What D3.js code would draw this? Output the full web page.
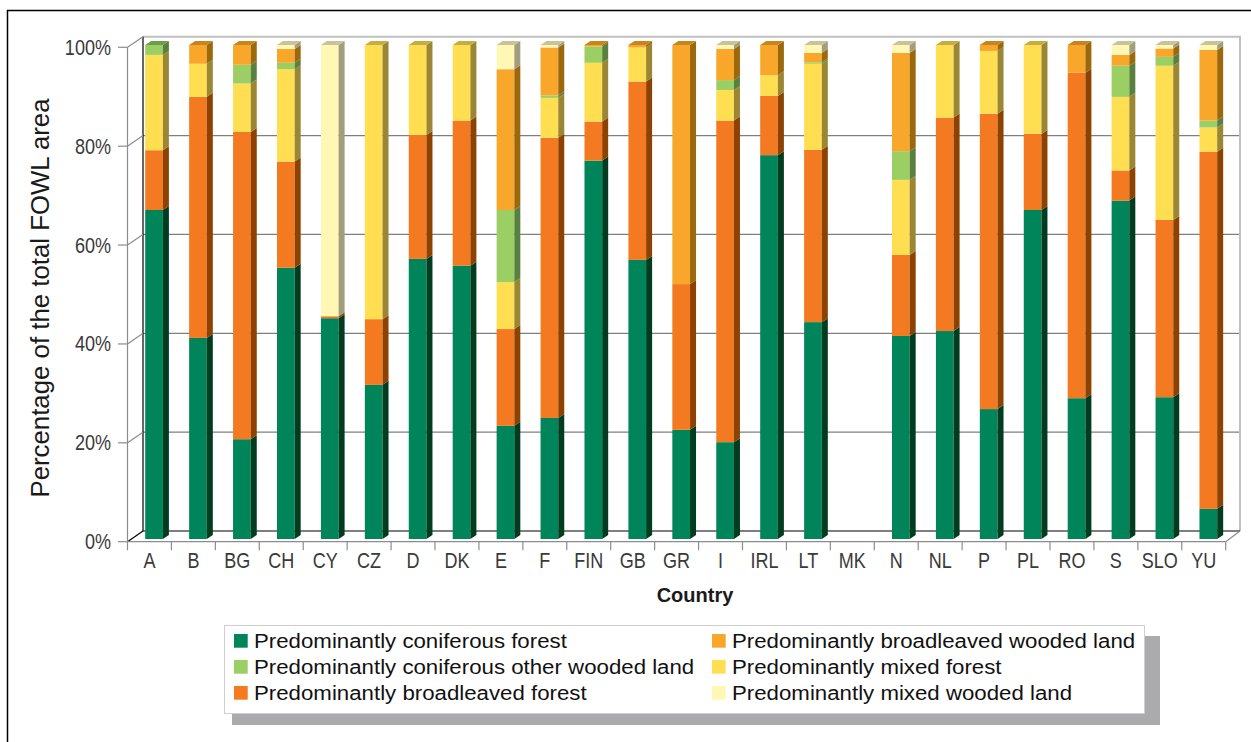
<!DOCTYPE html>
<html>
<head>
<meta charset="utf-8">
<script src="https://cdn.jsdelivr.net/npm/d3@7"></script>
<style>
  body { margin: 0; background: #fff; }
  svg { display: block; }
</style>
</head>
<body>
<div id="graph"></div>
<script>
// data (percent of total FOWL area)
const countries = ['A', 'B', 'BG', 'CH', 'CY', 'CZ', 'D', 'DK', 'E', 'F', 'FIN', 'GB', 'GR', 'I', 'IRL', 'LT', 'MK', 'N', 'NL', 'P', 'PL', 'RO', 'S', 'SLO', 'YU']
const coniferousForest = [66.6, 40.7, 20.2, 54.9, 44.7, 31.2, 56.7, 55.3, 22.9, 24.5, 76.6, 56.5, 22.1, 19.6, 77.7, 43.9, 0, 41.1, 42.1, 26.3, 66.6, 28.5, 68.5, 28.7, 6.1]
const broadleavedForest = [12.1, 48.8, 62.2, 21.5, 0.4, 13.3, 25.1, 29.4, 19.6, 56.7, 7.9, 36.1, 29.5, 65.1, 12.0, 34.9, 0, 16.4, 43.2, 59.8, 15.4, 65.9, 6.1, 35.9, 72.3]
const mixedForest = [19.3, 6.7, 9.8, 18.7, 0, 55.5, 18.2, 15.3, 9.5, 8.1, 11.9, 6.9, 0, 6.2, 4.2, 17.4, 0, 15.2, 14.7, 12.7, 18.0, 0, 14.9, 31.2, 4.9]
const coniferousOWL = [2.0, 0, 3.8, 1.3, 0, 0, 0, 0, 14.6, 0.5, 3.3, 0, 0, 2.0, 0, 0.3, 0, 5.8, 0, 0, 0, 0, 6.3, 1.8, 1.4]
const broadleavedWL = [0, 3.8, 4.0, 2.8, 0, 0, 0, 0, 28.5, 9.7, 0.3, 0.5, 48.4, 6.3, 6.1, 1.9, 0, 19.9, 0, 1.2, 0, 5.6, 2.2, 1.7, 14.3]
const mixedWL = [0, 0, 0, 0.8, 54.9, 0, 0, 0, 4.9, 0.5, 0, 0, 0, 0.8, 0, 1.6, 0, 1.6, 0, 0, 0, 0, 2.0, 0.7, 1.0]
const yTicks = [0, 20, 40, 60, 80, 100]

// stacking order bottom -> top
const keys = ['cf', 'bf', 'mf', 'cowl', 'bwl', 'mwl']
const series = { cf: coniferousForest, bf: broadleavedForest, mf: mixedForest, cowl: coniferousOWL, bwl: broadleavedWL, mwl: mixedWL }
const names = {
  cf: 'Predominantly coniferous forest',
  cowl: 'Predominantly coniferous other wooded land',
  bf: 'Predominantly broadleaved forest',
  bwl: 'Predominantly broadleaved wooded land',
  mf: 'Predominantly mixed forest',
  mwl: 'Predominantly mixed wooded land'
}
const front = { cf: '#00855a', cowl: '#9bce63', bf: '#f37a21', bwl: '#f9a72b', mf: '#ffde52', mwl: '#fff8b5' }
const side = { cf: '#003d20', cowl: '#5a8040', bf: '#8d4200', bwl: '#9b690c', mf: '#9b8733', mwl: '#a29d7b' }
const top_ = { cf: '#00623f', cowl: '#6e9d4a', bf: '#b8601a', bwl: '#c6851e', mf: '#c6ad42', mwl: '#c9c399' }

const table = countries.map((c, i) => {
  let row = { country: c }
  keys.forEach(k => row[k] = series[k][i])
  return row
})

const W = 1251, H = 742
const svg = d3.select('#graph').append('svg').attr('width', W).attr('height', H)

// outer frame
svg.append('rect').attr('x', 7.5).attr('y', 10.5).attr('width', 1300).attr('height', 800)
  .attr('fill', 'none').attr('stroke', '#000').attr('stroke-width', 1.5)

// scales
const x = d3.scaleBand().domain(countries).range([127.5, 1225.7])
const yFront = d3.scaleLinear().domain([0, 100]).range([541.7, 47.3])
const yBack = d3.scaleLinear().domain([0, 100]).range([531, 36.7])
const yBar = d3.scaleLinear().domain([0, 100]).range([539, 45])
const backX0 = 143, backX1 = 1240
const depth = { dx: 6, dy: -4 }
const narrow = 0.82 // axis font in the reference is a condensed face

// back wall gridlines
yTicks.filter(t => t > 0 && t < 100).forEach(t => {
  svg.append('line').attr('x1', backX0).attr('x2', backX1).attr('y1', yBack(t)).attr('y2', yBack(t))
    .attr('stroke', '#7f7f7f').attr('stroke-width', 1.2)
})
svg.append('line').attr('x1', backX0).attr('x2', backX1 + 1).attr('y1', yBack(100)).attr('y2', yBack(100))
  .attr('stroke', '#c0c0c0').attr('stroke-width', 2)
svg.append('line').attr('x1', backX1).attr('x2', backX1).attr('y1', yBack(100)).attr('y2', yBack(0))
  .attr('stroke', '#c0c0c0').attr('stroke-width', 2)
// left wall and floor edge
svg.append('line').attr('x1', backX0).attr('x2', backX0).attr('y1', yBack(100)).attr('y2', yBack(0))
  .attr('stroke', '#000').attr('stroke-width', 1.2)
svg.append('line').attr('x1', backX0).attr('x2', backX1).attr('y1', yBack(0)).attr('y2', yBack(0))
  .attr('stroke', '#000').attr('stroke-width', 1.2)
svg.append('line').attr('x1', 127.5).attr('x2', backX0).attr('y1', yFront(0)).attr('y2', yBack(0))
  .attr('stroke', '#000').attr('stroke-width', 1.2)

// bars
const stacked = d3.stack().keys(keys)(table)
const bw = 17.7
const bars = svg.append('g')
countries.forEach((c, i) => {
  const x0 = x(c) + 17.7, x1 = x0 + bw
  const segs = stacked.map(s => ({ key: s.key, y0: s[i][0], y1: s[i][1] })).filter(s => s.y1 - s.y0 > 0)
  segs.forEach((s, j) => {
    const yt = yBar(s.y1), yb = yBar(s.y0)
    bars.append('rect').attr('x', x0).attr('y', yt).attr('width', bw).attr('height', yb - yt)
      .attr('fill', front[s.key])
    bars.append('polygon')
      .attr('points', [[x1, yt], [x1 + depth.dx, yt + depth.dy], [x1 + depth.dx, yb + depth.dy], [x1, yb]].join(' '))
      .attr('fill', side[s.key])
    if (j === segs.length - 1) {
      bars.append('polygon')
        .attr('points', [[x0, yt], [x0 + depth.dx, yt + depth.dy], [x1 + depth.dx, yt + depth.dy], [x1, yt]].join(' '))
        .attr('fill', top_[s.key])
    }
  })
})

// front y axis
const yAxisG = svg.append('g')
yAxisG.append('line').attr('x1', 127.5).attr('x2', 127.5).attr('y1', yFront(100)).attr('y2', yFront(0))
  .attr('stroke', '#8c8c8c').attr('stroke-width', 1.2)
yTicks.forEach(t => {
  yAxisG.append('line').attr('x1', 118).attr('x2', 127.5).attr('y1', yFront(t)).attr('y2', yFront(t))
    .attr('stroke', '#8c8c8c').attr('stroke-width', 1.2)
  if (t > 0) {
    yAxisG.append('line').attr('x1', 127.5).attr('x2', backX0).attr('y1', yFront(t)).attr('y2', yBack(t))
      .attr('stroke', '#8c8c8c').attr('stroke-width', 1.2)
  }
  yAxisG.append('text')
    .attr('transform', `translate(111,${yFront(t) + 7.5}) scale(${narrow},1)`)
    .attr('text-anchor', 'end')
    .style('font-family', '"Liberation Sans", Arial, sans-serif')
    .style('font-size', '22px').attr('fill', '#3a3a3a')
    .text(t + '%')
})

// front floor edge + category axis
const xAxisG = svg.append('g')
xAxisG.append('line').attr('x1', 127.5).attr('x2', 1225.7).attr('y1', yFront(0)).attr('y2', yFront(0))
  .attr('stroke', '#8c8c8c').attr('stroke-width', 1.2)
xAxisG.append('line').attr('x1', 1225.7).attr('x2', backX1).attr('y1', yFront(0)).attr('y2', yBack(0))
  .attr('stroke', '#8c8c8c').attr('stroke-width', 1.2)
countries.concat([null]).forEach((c, i) => {
  const xx = c ? x(c) : x.range()[1]
  xAxisG.append('line').attr('x1', xx).attr('x2', xx).attr('y1', yFront(0)).attr('y2', yFront(0) + 8.5)
    .attr('stroke', '#8c8c8c').attr('stroke-width', 1.2)
})
xAxisG.selectAll('text.cat').data(countries).enter().append('text')
  .attr('class', 'cat')
  .attr('transform', d => `translate(${x(d) + x.bandwidth() / 2},567.5) scale(${narrow},1)`)
  .attr('text-anchor', 'middle')
  .style('font-family', '"Liberation Sans", Arial, sans-serif')
  .style('font-size', '22px').attr('fill', '#3a3a3a')
  .text(d => d)

// axis titles
svg.append('text').attr('x', 695).attr('y', 602).attr('text-anchor', 'middle')
  .style('font-family', '"Liberation Sans", Arial, sans-serif').style('font-weight', 'bold')
  .style('font-size', '20px').attr('fill', '#1a1a1a').text('Country')
svg.append('text').attr('transform', 'translate(49,298) rotate(-90)').attr('text-anchor', 'middle')
  .style('font-family', '"Liberation Sans", Arial, sans-serif')
  .style('font-size', '25.8px').attr('fill', '#1a1a1a').text('Percentage of the total FOWL area')

// legend
const leg = svg.append('g')
leg.append('rect').attr('x', 232).attr('y', 636).attr('width', 928).attr('height', 89).attr('fill', '#ababae')
leg.append('rect').attr('x', 224.5).attr('y', 625.5).attr('width', 920).attr('height', 88)
  .attr('fill', '#fff').attr('stroke', '#cfcfcf').attr('stroke-width', 1)
const legendOrder = [['cf', 'cowl', 'bf'], ['bwl', 'mf', 'mwl']]
const colX = [234, 712]
legendOrder.forEach((col, ci) => {
  col.forEach((k, ri) => {
    const yy = 634 + ri * 26
    leg.append('rect').attr('x', colX[ci]).attr('y', yy).attr('width', 13.7).attr('height', 13.7).attr('fill', front[k])
    leg.append('text')
      .attr('transform', `translate(${colX[ci] + 20},${yy + 13.5}) scale(1.06,1)`)
      .style('font-family', '"Liberation Sans", Arial, sans-serif')
      .style('font-size', '21px').attr('fill', '#111')
      .text(names[k])
  })
})
</script>
</body>
</html>
